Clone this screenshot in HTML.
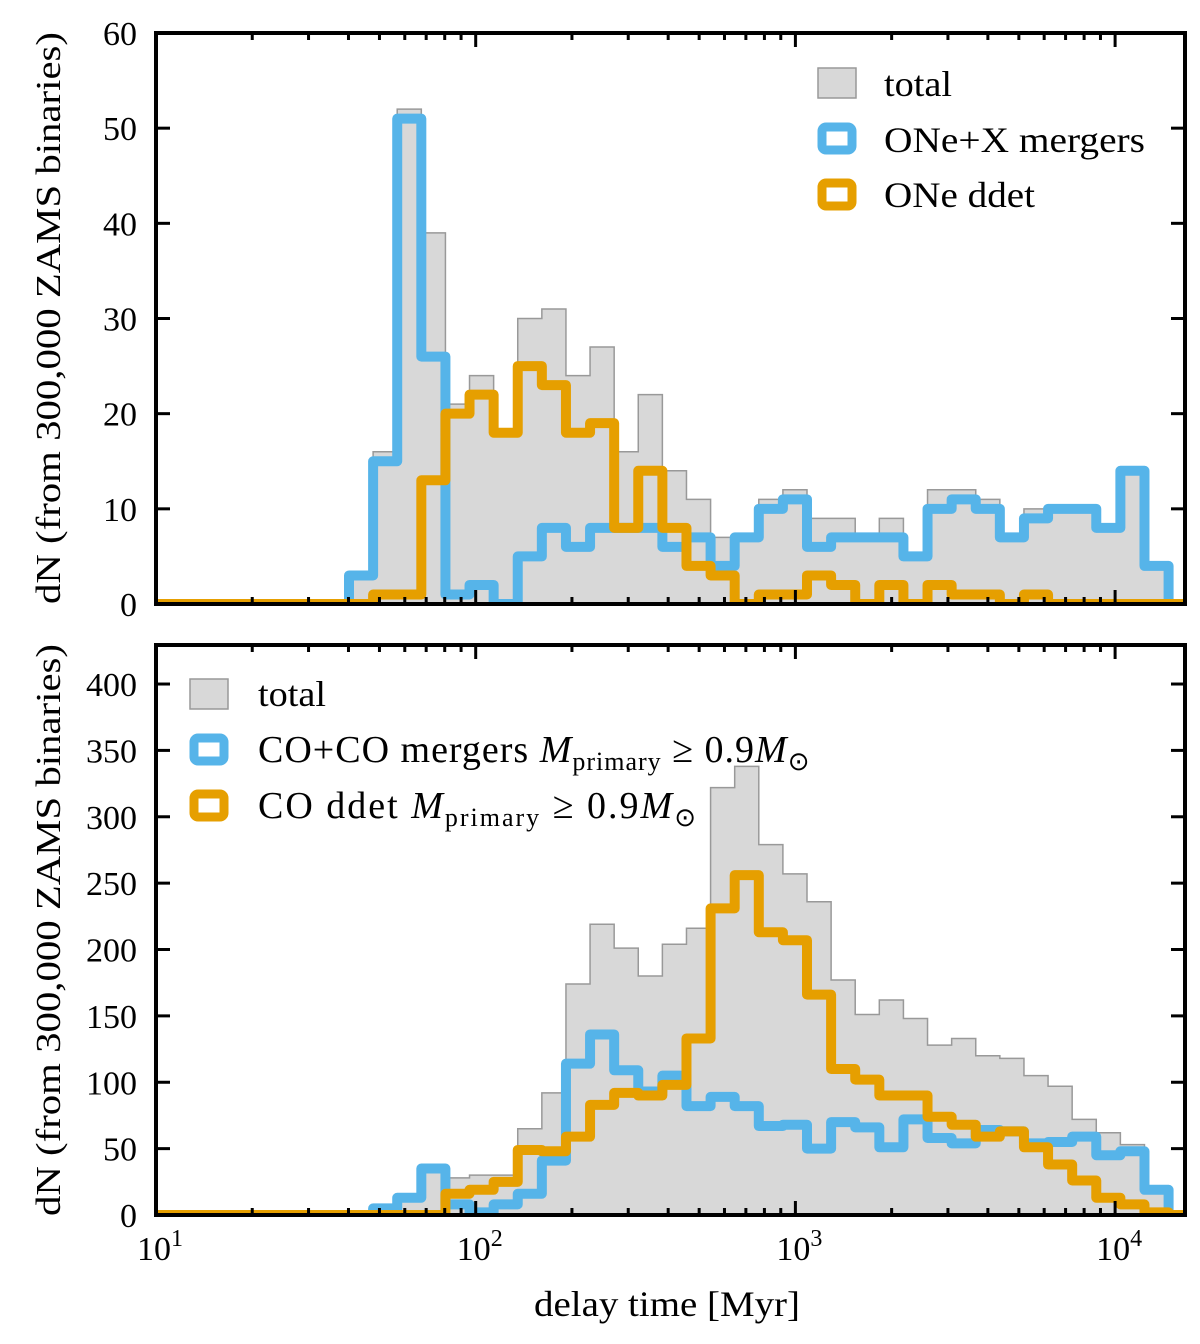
<!DOCTYPE html>
<html><head><meta charset="utf-8"><style>
html,body{margin:0;padding:0;background:#fff;}
svg{display:block;font-family:"Liberation Serif",serif;}
</style></head><body>
<svg id="chart" width="1200" height="1344" viewBox="0 0 1200 1344" xmlns="http://www.w3.org/2000/svg">
<defs>
<clipPath id="clipTop"><rect x="156" y="33" width="1029" height="571"/></clipPath>
<clipPath id="clipBot"><rect x="156" y="645" width="1029" height="570"/></clipPath>
</defs>
<g id="top"></g>
<g id="bot"></g>

<text transform="translate(60,318) rotate(-90)" text-anchor="middle" font-size="35" textLength="572" lengthAdjust="spacingAndGlyphs">dN (from 300,000 ZAMS binaries)</text>
<text transform="translate(60,930) rotate(-90)" text-anchor="middle" font-size="35" textLength="572" lengthAdjust="spacingAndGlyphs">dN (from 300,000 ZAMS binaries)</text>
<text x="667" y="1316" text-anchor="middle" font-size="36" textLength="266" lengthAdjust="spacingAndGlyphs">delay time [Myr]</text>

<g>
<rect x="818" y="68" width="38" height="30" fill="#d8d8d8" stroke="#999" stroke-width="1.5"/>
<text x="884" y="96" font-size="36" textLength="68" lengthAdjust="spacingAndGlyphs">total</text>
<rect x="822" y="127" width="30" height="23" rx="4" fill="#fff" stroke="#56B4E9" stroke-width="9"/>
<text x="884" y="152" font-size="36" textLength="261" lengthAdjust="spacingAndGlyphs">ONe+X mergers</text>
<rect x="822" y="183" width="30" height="23" rx="4" fill="#fff" stroke="#E69F00" stroke-width="9"/>
<text x="884" y="207" font-size="36" textLength="151" lengthAdjust="spacingAndGlyphs">ONe ddet</text>
</g>
<g>
<rect x="190" y="679" width="38" height="30" fill="#d8d8d8" stroke="#999" stroke-width="1.5"/>
<text x="258" y="706" font-size="36" textLength="68" lengthAdjust="spacingAndGlyphs">total</text>
<rect x="194" y="738" width="30" height="23" rx="4" fill="#fff" stroke="#56B4E9" stroke-width="9"/>
<text x="258" y="762" font-size="38" letter-spacing="1">CO+CO mergers <tspan font-style="italic">M</tspan><tspan font-size="26" dy="8">primary</tspan><tspan dy="-8"> ≥ 0.9</tspan><tspan font-style="italic">M</tspan><tspan font-size="26" dy="8">⊙</tspan></text>
<rect x="194" y="794" width="30" height="23" rx="4" fill="#fff" stroke="#E69F00" stroke-width="9"/>
<text x="258" y="818" font-size="38" letter-spacing="2">CO ddet <tspan font-style="italic">M</tspan><tspan font-size="26" dy="8">primary</tspan><tspan dy="-8"> ≥ 0.9</tspan><tspan font-style="italic">M</tspan><tspan font-size="26" dy="8">⊙</tspan></text>
</g>
</svg>
<script>
// bin layout (log10 of delay time)
const binStartLog = 1.6037;
const binWidthLog = 0.0754;
// top panel data
const topTotal = [3,16,52,39,21,24,18,30,31,24,27,16,22,14,11,7,7,11,12,9,9,7,9,5,12,12,11,7,10,10,10,8,14,4];
const topOneMergers = [3,15,51,26,1,2,0,5,8,6,8,8,8,6,7,4,7,10,11,6,7,7,7,5,10,11,10,7,9,10,10,8,14,4];
const topOneDdet = [0,1,1,13,20,22,18,25,23,18,19,8,14,8,4,3,0,1,1,3,2,0,2,0,2,1,1,0,1,0,0,0,0,0];
const topYTicks = [0,10,20,30,40,50,60];
// bottom panel data
const botTotal = [0,5,13,36,28,30,30,65,92,174,219,201,180,204,216,322,338,279,257,236,177,151,162,148,128,133,120,118,105,97,72,62,53,21];
const botCoMergers = [0,5,13,35,8,2,8,16,41,114,136,109,93,105,82,89,82,67,68,50,70,66,51,72,58,54,64,63,54,55,59,45,48,19];
const botCoDdet = [0,0,0,0,16,19,25,49,48,59,83,92,90,98,133,231,256,213,207,166,110,102,90,90,74,68,59,63,51,38,26,13,8,2];
const botYTicks = [0,50,100,150,200,250,300,350,400];
const xTickExps = [1,2,3,4];

const NS = "http://www.w3.org/2000/svg";
const X0 = 156, X1 = 1185;
function xScale(lg){ return 156 + (lg - 1) * 319.7; }
function mk(tag, attrs, parent){ const e = document.createElementNS(NS, tag); for (const k in attrs) e.setAttribute(k, attrs[k]); parent.appendChild(e); return e; }

function panel(g, top, bottom, ymax, total, blue, orange, yticks, clipId, showXLabels){
  const yScale = v => bottom - v / ymax * (bottom - top);
  const edge = i => xScale(binStartLog + i * binWidthLog);
  const plot = mk('g', {'clip-path': 'url(#' + clipId + ')'}, g);
  
  
  let d = 'M' + edge(0) + ' ' + yScale(0);
  total.forEach((v, i) => { d += ' L' + edge(i) + ' ' + yScale(v) + ' L' + edge(i + 1) + ' ' + yScale(v); });
  d += ' L' + edge(total.length) + ' ' + yScale(0) + ' Z';
  const tp = mk('path', {d: d, fill: '#d8d8d8', stroke: '#999', 'stroke-width': 1.5}, plot);
  
  
  function stepLine(vals, color, name){
    let p = 'M' + X0 + ' ' + yScale(0) + ' L' + edge(0) + ' ' + yScale(0);
    vals.forEach((v, i) => { p += ' L' + edge(i) + ' ' + yScale(v) + ' L' + edge(i + 1) + ' ' + yScale(v); });
    p += ' L' + edge(vals.length) + ' ' + yScale(0) + ' L' + X1 + ' ' + yScale(0);
    const el = mk('path', {d: p, fill: 'none', stroke: color, 'stroke-width': 10, 'stroke-linejoin': 'round'}, plot);
    
    
  }
  stepLine(blue, '#56B4E9', 'mergers-histogram');
  stepLine(orange, '#E69F00', 'ddet-histogram');
  const fr = mk('rect', {x: X0, y: top, width: X1 - X0, height: bottom - top, fill: 'none', stroke: '#000', 'stroke-width': 4}, g);
  
  
  yticks.forEach(t => {
    const y = yScale(t);
    mk('line', {x1: X0, x2: X0 + 14, y1: y, y2: y, stroke: '#000', 'stroke-width': 3}, g);
    mk('line', {x1: X1 - 14, x2: X1, y1: y, y2: y, stroke: '#000', 'stroke-width': 3}, g);
    const lb = mk('text', {x: 137, y: y + 12, 'text-anchor': 'end', 'font-size': 34}, g);
    lb.textContent = t;
    
    
  });
  for (let e = 1; e <= 4; e++){
    for (let m = 1; m <= 9; m++){
      const lg = e + Math.log10(m);
      const x = xScale(lg);
      if (x > X1) continue;
      const len = m === 1 ? 14 : 7;
      mk('line', {x1: x, x2: x, y1: bottom, y2: bottom - len, stroke: '#000', 'stroke-width': 3}, g);
      mk('line', {x1: x, x2: x, y1: top, y2: top + len, stroke: '#000', 'stroke-width': 3}, g);
    }
  }
  if (showXLabels){
    xTickExps.forEach(e => {
      const x = xScale(e);
      const lb = mk('text', {x: x + 4, y: bottom + 45, 'text-anchor': 'middle', 'font-size': 34}, g);
      
      
      const a = mk('tspan', {}, lb); a.textContent = '10';
      const b = mk('tspan', {dy: -14, 'font-size': 24}, lb); b.textContent = e;
    });
  }
}
panel(document.getElementById('top'), 33, 604, 60, topTotal, topOneMergers, topOneDdet, topYTicks, 'clipTop', false);
panel(document.getElementById('bot'), 645, 1215, 429.4, botTotal, botCoMergers, botCoDdet, botYTicks, 'clipBot', true);
</script>
</body></html>
